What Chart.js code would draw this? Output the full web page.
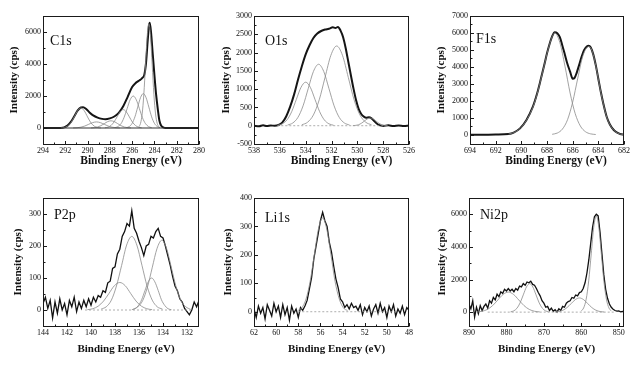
<!DOCTYPE html>
<html><head><meta charset="utf-8">
<script src="https://cdn.jsdelivr.net/npm/chart.js@4.4.1/dist/chart.umd.min.js"></script>
<style>
html,body{margin:0;padding:0;background:#fff;}
body{width:640px;height:367px;position:relative;overflow:hidden;}
canvas{position:absolute;}
</style></head><body>
<canvas id="p1"></canvas><canvas id="p2"></canvas><canvas id="p3"></canvas>
<canvas id="p4"></canvas><canvas id="p5"></canvas><canvas id="p6"></canvas>
<script>
const xTitle = "Binding Energy (eV)";
const yTitle = "Intensity (cps)";
const panelLabels = ["C1s","O1s","F1s","P2p","Li1s","Ni2p"];

// ---------- C1s ----------
const c1sXTicks = [294,292,290,288,286,284,282,280];
const c1sYTicks = [0,2000,4000,6000];
const c1sEnvelope = [[294,0],[293,0],[292.4,5],[292.1,40],[291.8,150],[291.5,380],[291.2,720],[290.9,1080],[290.6,1280],[290.4,1300],[290.1,1170],[289.8,960],[289.5,790],[289.1,650],[288.7,570],[288.4,545],[288.0,600],[287.6,720],[287.2,950],[286.8,1360],[286.4,1950],[286.0,2560],[285.7,2800],[285.4,2950],[285.1,3120],[284.9,3350],[284.75,4100],[284.6,5500],[284.5,6350],[284.42,6580],[284.3,5950],[284.15,4600],[284.0,3300],[283.85,2100],[283.7,1200],[283.55,450],[283.4,150],[283.2,40],[283.0,0],[282,0],[280,0]];
const c1sPeakA = [[292.4,6],[292.1,30],[291.8,116],[291.5,326],[291.2,690],[290.9,1078],[290.6,1250],[290.3,1078],[290.0,690],[289.7,326],[289.4,116],[289.1,30],[288.8,6]];
const c1sPeakB = [[291.3,4],[290.95,17],[290.6,51],[290.25,123],[289.9,230],[289.55,335],[289.2,380],[288.85,335],[288.5,230],[288.15,123],[287.8,51],[287.45,17],[287.1,4]];
const c1sPeakC = [[289.7,5],[289.4,20],[289.1,61],[288.8,146],[288.5,273],[288.2,397],[287.9,450],[287.6,397],[287.3,273],[287.0,146],[286.7,61],[286.4,20],[286.1,5]];
const c1sPeakD = [[288.45,13],[288.18,50],[287.9,156],[287.63,373],[287.35,697],[287.08,1015],[286.8,1150],[286.53,1015],[286.25,697],[285.98,373],[285.7,156],[285.43,50],[285.15,13]];
const c1sPeakE = [[287.55,22],[287.28,88],[287.0,271],[286.73,649],[286.45,1213],[286.18,1765],[285.9,2000],[285.63,1765],[285.35,1213],[285.08,649],[284.8,271],[284.53,88],[284.25,22]];
const c1sPeakF = [[286.5,24],[286.25,94],[286.0,291],[285.75,698],[285.5,1304],[285.25,1897],[285.0,2150],[284.75,1897],[284.5,1304],[284.25,698],[284.0,291],[283.75,94],[283.5,24]];
const c1sPeakG = [[285.4,72],[285.25,285],[285.1,880],[284.95,2111],[284.8,3942],[284.65,5736],[284.5,6500],[284.35,5736],[284.2,3942],[284.05,2111],[283.9,880],[283.75,285],[283.6,72]];
const c1sBaseline = [[294,0],[280,0]];

// ---------- O1s ----------
const o1sXTicks = [538,536,534,532,530,528,526];
const o1sYTicks = [-500,0,500,1000,1500,2000,2500,3000];
const o1sEnvelope = [[538,0],[537.6,-15],[537.3,10],[537,-10],[536.7,5],[536.4,0],[536.1,20],[535.8,90],[535.5,260],[535.2,520],[534.9,850],[534.6,1250],[534.3,1620],[534.0,1950],[533.7,2200],[533.4,2400],[533.1,2520],[532.8,2590],[532.5,2630],[532.2,2650],[531.9,2690],[531.7,2670],[531.5,2700],[531.3,2600],[531.1,2420],[530.9,2120],[530.7,1750],[530.5,1380],[530.3,1020],[530.1,700],[529.9,460],[529.7,320],[529.5,250],[529.3,220],[529.1,230],[528.9,200],[528.7,130],[528.5,60],[528.3,15],[528.0,-5],[527.6,10],[527.2,-10],[526.8,5],[526.4,-10],[526,5]];
const o1sPeakA = [[536.16,13],[535.8,52],[535.44,161],[535.08,386],[534.72,722],[534.36,1050],[534.0,1190],[533.64,1050],[533.28,722],[532.92,386],[532.56,161],[532.2,52],[531.84,13]];
const o1sPeakB = [[535.4,19],[535.0,74],[534.6,227],[534.2,545],[533.8,1019],[533.4,1483],[533.0,1680],[532.6,1483],[532.2,1019],[531.8,545],[531.4,227],[531.0,74],[530.6,19]];
const o1sPeakC = [[534.3,24],[533.85,96],[533.4,295],[532.95,708],[532.5,1322],[532.05,1924],[531.6,2180],[531.15,1924],[530.7,1322],[530.25,708],[529.8,295],[529.35,96],[528.9,24]];
const o1sPeakD = [[530.35,2],[530.13,9],[529.9,28],[529.68,68],[529.45,127],[529.23,185],[529.0,210],[528.78,185],[528.55,127],[528.33,68],[528.1,28],[527.88,9],[527.65,2]];
const o1sBaseline = [[536.2,0],[528,0]];

// ---------- F1s ----------
const f1sXTicks = [694,692,690,688,686,684,682];
const f1sYTicks = [0,1000,2000,3000,4000,5000,6000,7000];
const f1sEnvelope = [[694,0],[693,0],[692,10],[691,40],[690.6,120],[690.1,370],[689.6,870],[689.1,1650],[688.8,2350],[688.5,3220],[688.2,4150],[688.0,4800],[687.8,5350],[687.6,5800],[687.4,6040],[687.2,5980],[687.0,5750],[686.8,5250],[686.6,4700],[686.4,4150],[686.2,3720],[686.0,3300],[685.85,3350],[685.7,3620],[685.5,4100],[685.3,4600],[685.1,5000],[684.9,5200],[684.75,5250],[684.6,5150],[684.4,4750],[684.2,4100],[684.0,3300],[683.8,2500],[683.6,1800],[683.35,1060],[683.1,600],[682.8,275],[682.5,100],[682.3,40],[682,0]];
const f1sPeakA = [[691,40],[690.6,120],[690.1,360],[689.6,850],[689.1,1620],[688.8,2320],[688.5,3200],[688.2,4130],[688.0,4780],[687.8,5330],[687.6,5780],[687.4,6000],[687.0,5436],[686.6,4040],[686.2,2460],[685.8,1236],[685.4,510],[685.0,174],[684.6,48],[684.2,10]];
const f1sPeakB = [[687.6,22],[687.2,96],[686.8,328],[686.4,883],[686.0,1919],[685.6,3338],[685.2,4654],[684.75,5200],[684.6,5130],[684.4,4730],[684.2,4080],[684.0,3280],[683.8,2480],[683.6,1780],[683.35,1040],[683.1,590],[682.8,265],[682.5,95],[682.3,35],[682,0]];

// ---------- P2p ----------
const p2pXTicks = [144,142,140,138,136,134,132];
const p2pYTicks = [0,100,200,300];
const p2pData = [[144.0,20],[143.8,40],[143.6,5],[143.4,30],[143.2,-25],[143.0,25],[142.8,-10],[142.6,35],[142.4,0],[142.2,20],[142.0,-15],[141.8,30],[141.6,10],[141.4,40],[141.2,-5],[141.0,25],[140.8,5],[140.6,30],[140.4,10],[140.2,35],[140.0,15],[139.8,40],[139.6,25],[139.4,45],[139.2,40],[139.0,60],[138.8,55],[138.6,85],[138.4,90],[138.2,130],[138.0,135],[137.8,175],[137.6,190],[137.4,230],[137.2,245],[137.0,270],[136.8,262],[136.6,310],[136.4,255],[136.2,240],[136.0,215],[135.8,195],[135.6,170],[135.4,200],[135.2,205],[135.0,230],[134.8,225],[134.6,245],[134.4,255],[134.2,230],[134.0,225],[133.8,200],[133.6,170],[133.4,140],[133.2,105],[133.0,75],[132.8,60],[132.6,35],[132.4,25],[132.2,5],[132.0,-5],[131.8,-15],[131.6,0],[131.4,25],[131.2,10],[131.0,30]];
const p2pPeakA = [[140.3,1],[139.85,4],[139.4,12],[138.95,28],[138.5,52],[138.05,76],[137.6,86],[137.15,76],[136.7,52],[136.25,28],[135.8,12],[135.35,4],[134.9,1]];
const p2pPeakB = [[139.15,3],[138.73,10],[138.3,31],[137.88,75],[137.45,139],[137.03,203],[136.6,230],[136.18,203],[135.75,139],[135.33,75],[134.9,31],[134.48,10],[134.05,3]];
const p2pPeakC = [[136.6,1],[136.33,4],[136.05,14],[135.78,32],[135.5,61],[135.23,88],[134.95,100],[134.68,88],[134.4,61],[134.13,32],[133.85,14],[133.58,4],[133.3,1]];
const p2pPeakD = [[136.5,2],[136.1,10],[135.7,29],[135.3,71],[134.9,132],[134.5,192],[134.1,218],[133.7,192],[133.3,132],[132.9,71],[132.5,29],[132.1,10],[131.7,2]];
const p2pBaseline = [[140.5,0],[131.5,0]];

// ---------- Li1s ----------
const li1sXTicks = [62,60,58,56,54,52,50,48];
const li1sYTicks = [0,100,200,300,400];
const li1sData = [[62.0,10],[61.8,-20],[61.6,20],[61.4,-5],[61.2,15],[61.0,-25],[60.8,25],[60.6,5],[60.4,-15],[60.2,30],[60.0,0],[59.8,20],[59.6,-20],[59.4,25],[59.2,-10],[59.0,15],[58.8,-30],[58.6,20],[58.4,-5],[58.2,10],[58.0,-20],[57.8,15],[57.6,5],[57.4,20],[57.2,40],[57.0,80],[56.8,120],[56.6,185],[56.4,230],[56.2,275],[56.0,320],[55.8,350],[55.6,320],[55.4,300],[55.2,245],[55.0,210],[54.8,160],[54.6,115],[54.4,85],[54.2,45],[54.0,35],[53.8,15],[53.6,25],[53.4,10],[53.2,30],[53.0,15],[52.8,20],[52.6,5],[52.4,25],[52.2,-10],[52.0,15],[51.8,0],[51.6,20],[51.4,-15],[51.2,10],[51.0,25],[50.8,-5],[50.6,30],[50.4,0],[50.2,15],[50.0,-20],[49.8,20],[49.6,0],[49.4,25],[49.2,-15],[49.0,10],[48.8,-5],[48.6,20],[48.4,-10],[48.2,15],[48.0,5]];
const li1sFit = [[58.05,4],[57.68,14],[57.3,45],[56.93,107],[56.55,200],[56.18,291],[55.8,330],[55.43,291],[55.05,200],[54.68,107],[54.3,45],[53.93,14],[53.55,4]];
const li1sBaseline = [[58,0],[49,0]];

// ---------- Ni2p ----------
const ni2pXTicks = [890,880,870,860,850];
const ni2pYTicks = [0,2000,4000,6000];
const ni2pData = [[890,500],[889.5,200],[889,700],[888.5,-300],[888,300],[887.5,-100],[887,400],[886.5,100],[886,350],[885.5,500],[885,250],[884.5,700],[884,550],[883.5,900],[883,750],[882.5,1100],[882,950],[881.5,1250],[881,1150],[880.5,1400],[880,1300],[879.5,1450],[879,1300],[878.5,1400],[878,1250],[877.5,1450],[877,1350],[876.5,1600],[876,1550],[875.5,1750],[875,1650],[874.5,1850],[874,1800],[873.5,1900],[873,1700],[872.5,1650],[872,1450],[871.5,1200],[871,1000],[870.5,700],[870,550],[869.5,300],[869,350],[868.5,100],[868,250],[867.5,50],[867,150],[866.5,0],[866,200],[865.5,100],[865,350],[864.5,300],[864,550],[863.5,650],[863,700],[862.5,900],[862,850],[861.5,1050],[861,1000],[860.5,1200],[860,1250],[859.5,1450],[859,1800],[858.5,2400],[858,3200],[857.5,4200],[857,5200],[856.5,5850],[856,6000],[855.5,5900],[855,4900],[854.5,3600],[854,2300],[853.5,1400],[853,850],[852.5,500],[852,300],[851.5,180],[851,100],[850.5,60],[850,80],[849.5,20],[849,40],[848.5,30]];
const ni2pPeakA = [[887.9,14],[886.5,54],[885.1,166],[883.7,399],[882.3,746],[880.9,1085],[879.5,1230],[878.1,1085],[876.7,746],[875.3,399],[873.9,166],[872.5,54],[871.1,14]];
const ni2pPeakB = [[878.9,19],[878.05,77],[877.2,237],[876.35,568],[875.5,1061],[874.65,1544],[873.8,1750],[872.95,1544],[872.1,1061],[871.25,568],[870.4,237],[869.55,77],[868.7,19]];
const ni2pPeakC = [[867.1,10],[866.0,38],[864.9,118],[863.8,282],[862.7,528],[861.6,768],[860.5,870],[859.4,768],[858.3,528],[857.2,282],[856.1,118],[855.0,38],[853.9,10]];
const ni2pPeakD = [[860.05,65],[859.38,259],[858.7,798],[858.03,1916],[857.35,3578],[856.68,5207],[856.0,5900],[855.33,5207],[854.65,3578],[853.98,1916],[853.3,798],[852.63,259],[851.95,65]];
const ni2pBaseline = [[885,0],[851,0]];

// ---------- styles ----------
const FONT = '"Liberation Serif", "Times New Roman", serif';
function pts(a){ return a.slice().sort((p,q)=>q[0]-p[0]).map(([x,y])=>({x,y})); }
function envelope(a){ return {data:pts(a), borderColor:'#151515', borderWidth:2, cubicInterpolationMode:'monotone'}; }
function comp(a){ return {data:pts(a), borderColor:'#8a8a8a', borderWidth:0.8, cubicInterpolationMode:'monotone'}; }
function noisy(a){ return {data:pts(a), borderColor:'#111', borderWidth:1.3, tension:0}; }
function base(a, solid){ return {data:pts(a), borderColor: solid ? '#333' : '#999', borderWidth: solid ? 1.2 : 0.8, borderDash: solid ? [] : [2,2]}; }

const panels = [
  {id:'p1', rect:[0,0,212,172], yW:43, top:16, right:13, xH:28, x:[280,294], xt:c1sXTicks, y:[-1000,7000], yt:c1sYTicks,
   label:panelLabels[0], lx:7, ly:29, xs:11.5, xdx:10, xdy:17, ytx:14,
   ds:[base(c1sBaseline,true), comp(c1sPeakA), comp(c1sPeakB), comp(c1sPeakC), comp(c1sPeakD), comp(c1sPeakE), comp(c1sPeakF), comp(c1sPeakG), envelope(c1sEnvelope)]},
  {id:'p2', rect:[212,0,210,172], yW:42, top:16, right:13, xH:28, x:[526,538], xt:o1sXTicks, y:[-500,3000], yt:o1sYTicks,
   label:panelLabels[1], lx:11, ly:29, xs:11.5, xdx:10, xdy:17, ytx:14,
   ds:[base(o1sBaseline), comp(o1sPeakA), comp(o1sPeakB), comp(o1sPeakC), comp(o1sPeakD), envelope(o1sEnvelope)]},
  {id:'p3', rect:[422,0,218,172], yW:48, top:16, right:16, xH:28, x:[682,694], xt:f1sXTicks, y:[-550,7000], yt:f1sYTicks,
   label:panelLabels[2], lx:6, ly:27, xs:11.5, xdx:9, xdy:17, ytx:19,
   ds:[comp(f1sPeakA), comp(f1sPeakB), envelope(f1sEnvelope)]},
  {id:'p4', rect:[0,175,212,192], yW:43, top:23, right:13, xH:41, x:[131,144], xt:p2pXTicks, y:[-50,350], yt:p2pYTicks,
   label:panelLabels[3], lx:11, ly:21, xs:11, xdx:5, xdy:23, ytx:18,
   ds:[base(p2pBaseline), comp(p2pPeakA), comp(p2pPeakB), comp(p2pPeakC), comp(p2pPeakD), noisy(p2pData)]},
  {id:'p5', rect:[212,175,210,192], yW:42, top:23, right:13, xH:41, x:[48,62], xt:li1sXTicks, y:[-50,400], yt:li1sYTicks,
   label:panelLabels[4], lx:11, ly:24, xs:11, xdx:5, xdy:23, ytx:16,
   ds:[base(li1sBaseline), comp(li1sFit), noisy(li1sData)]},
  {id:'p6', rect:[422,175,218,192], yW:47, top:23, right:16, xH:41, x:[848.6,890], xt:ni2pXTicks, y:[-850,7000], yt:ni2pYTicks,
   label:panelLabels[5], lx:11, ly:21, xs:11, xdx:0, xdy:23, ytx:20,
   ds:[base(ni2pBaseline), comp(ni2pPeakA), comp(ni2pPeakB), comp(ni2pPeakC), comp(ni2pPeakD), noisy(ni2pData)]}
];

const panelText = {
  id:'panelText',
  afterDraw(chart){
    const p = chart.options.plugins.panelText;
    const {ctx, chartArea:a} = chart;
    const sx = chart.scales.x, sy = chart.scales.y;
    ctx.save();
    ctx.strokeStyle = '#1a1a1a'; ctx.lineWidth = 1;
    ctx.strokeRect(Math.round(a.left)+0.5, Math.round(a.top)+0.5, Math.round(a.right-a.left)-1, Math.round(a.bottom-a.top));
    // inward major and minor tick marks
    ctx.beginPath();
    const xt = p.xt, yt = p.yt;
    const bx = Math.round(a.bottom)+0.5, lx0 = Math.round(a.left)+0.5;
    for (let i = 0; i < xt.length; i++) {
      const px = Math.round(sx.getPixelForValue(xt[i]))+0.5;
      ctx.moveTo(px, bx); ctx.lineTo(px, bx-3.5);
      if (i < xt.length-1) {
        const mx = Math.round(sx.getPixelForValue((xt[i]+xt[i+1])/2))+0.5;
        ctx.moveTo(mx, bx); ctx.lineTo(mx, bx-2);
      }
    }
    for (let i = 0; i < yt.length; i++) {
      const py = Math.round(sy.getPixelForValue(yt[i]))+0.5;
      ctx.moveTo(lx0, py); ctx.lineTo(lx0+3.5, py);
      const nv = (i < yt.length-1) ? (yt[i]+yt[i+1])/2 : yt[i] + (yt[i]-yt[i-1])/2;
      if (nv <= sy.max) {
        const my = Math.round(sy.getPixelForValue(nv))+0.5;
        ctx.moveTo(lx0, my); ctx.lineTo(lx0+2, my);
      }
    }
    ctx.stroke();
    ctx.fillStyle = '#111';
    ctx.font = '14px ' + FONT;
    ctx.textAlign = 'left'; ctx.textBaseline = 'alphabetic';
    ctx.fillText(p.label, a.left + p.lx, a.top + p.ly);
    ctx.font = 'bold ' + p.xs + 'px ' + FONT;
    ctx.textAlign = 'center'; ctx.textBaseline = 'middle';
    ctx.fillText(xTitle, (a.left+a.right)/2 + p.xdx, a.bottom + p.xdy);
    ctx.translate(p.ytx, (a.top+a.bottom)/2);
    ctx.rotate(-Math.PI/2);
    ctx.font = 'bold 11px ' + FONT;
    ctx.fillText(yTitle, 0, 0);
    ctx.restore();
  }
};

panels.forEach(p => {
  const cv = document.getElementById(p.id);
  cv.width = p.rect[2]; cv.height = p.rect[3];
  cv.style.left = p.rect[0]+'px'; cv.style.top = p.rect[1]+'px';
  cv.style.width = p.rect[2]+'px'; cv.style.height = p.rect[3]+'px';
  const tickFont = {family: FONT, size: 8};
  new Chart(cv, {
    type:'line',
    data:{datasets: p.ds.map(d => Object.assign({pointRadius:0, fill:false}, d))},
    options:{
      responsive:false, animation:false, devicePixelRatio:1,
      layout:{padding:{top:p.top, right:p.right, left:0, bottom:0}},
      plugins:{legend:{display:false}, tooltip:{enabled:false},
        panelText:{label:p.label, lx:p.lx, ly:p.ly, xs:p.xs, xdx:p.xdx, xdy:p.xdy, ytx:p.ytx, xt:p.xt, yt:p.yt}},
      scales:{
        x:{type:'linear', reverse:true, min:p.x[0], max:p.x[1],
           afterBuildTicks: s => { s.ticks = p.xt.map(v => ({value:v})); },
           afterFit: s => { s.height = p.xH; },
           ticks:{autoSkip:false, maxRotation:0, padding:2, color:'#111', font:tickFont, callback:v => String(v)},
           grid:{display:false, drawOnChartArea:false, drawTicks:false},
           border:{display:false}},
        y:{type:'linear', min:p.y[0], max:p.y[1],
           afterBuildTicks: s => { s.ticks = p.yt.map(v => ({value:v})); },
           afterFit: s => { s.width = p.yW; },
           ticks:{autoSkip:false, padding:2, color:'#111', font:tickFont, callback:v => String(v)},
           grid:{display:false, drawOnChartArea:false, drawTicks:false},
           border:{display:false}}
      }
    },
    plugins:[panelText]
  });
});
</script>
</body></html>
